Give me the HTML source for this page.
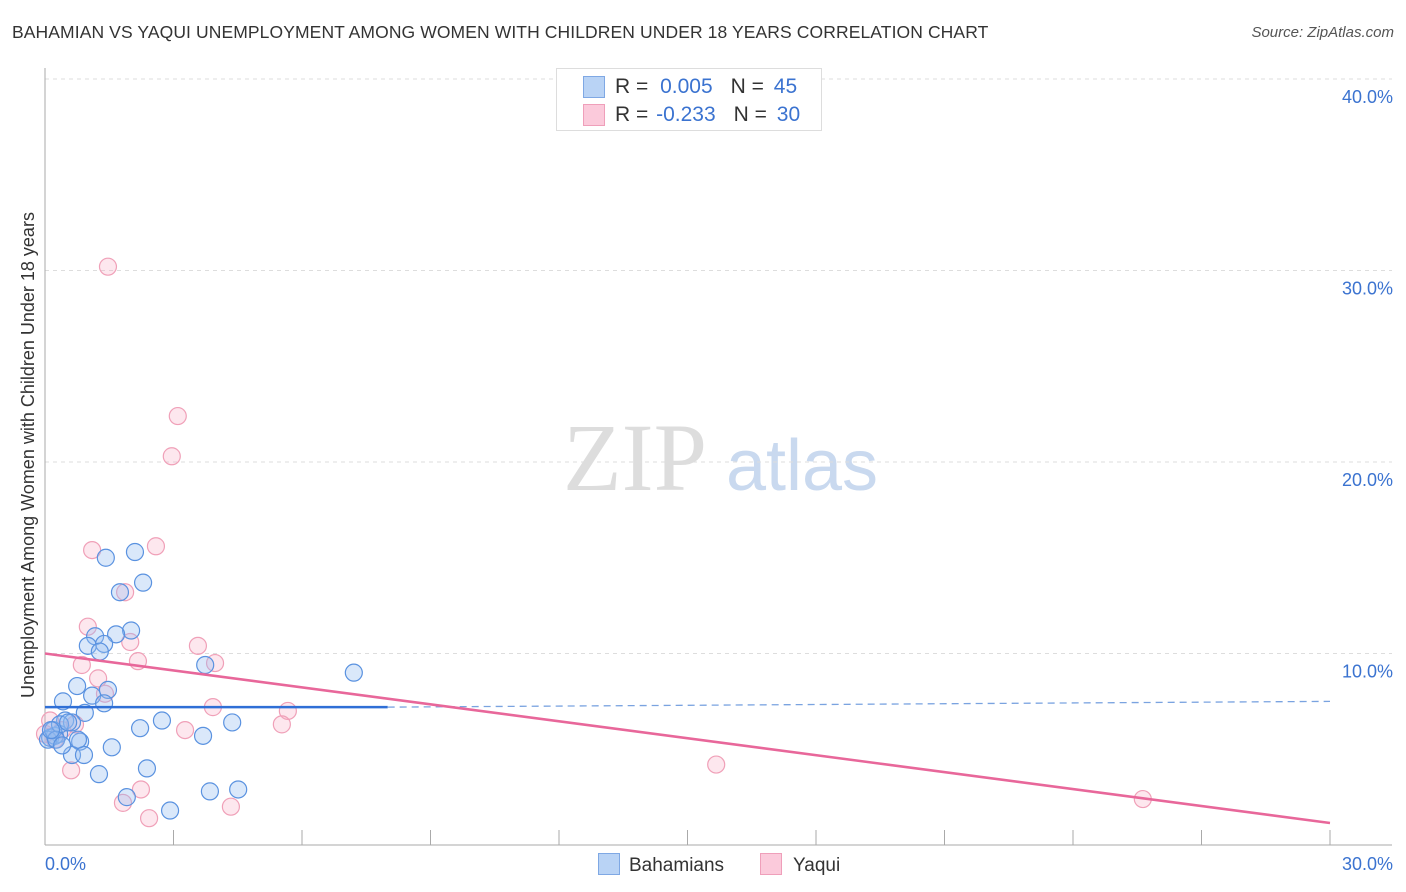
<!DOCTYPE html>
<html><head><meta charset="utf-8"><style>
body{margin:0;background:#fff;font-family:"Liberation Sans",sans-serif;}
#wrap{position:relative;width:1406px;height:892px;overflow:hidden;}
.t{position:absolute;white-space:nowrap;}
</style></head><body>
<div id="wrap">
<div class="t" style="left:12px;top:22px;font-size:17.5px;color:#333;letter-spacing:0.1px;">BAHAMIAN VS YAQUI UNEMPLOYMENT AMONG WOMEN WITH CHILDREN UNDER 18 YEARS CORRELATION CHART</div>
<div class="t" style="right:12px;top:24px;font-size:15px;color:#555;font-style:italic;">Source: ZipAtlas.com</div>
<svg id="plot" width="1406" height="892" style="position:absolute;left:0;top:0"></svg>
</div>
<script>
const xTicks=[0,3,6,9,12,15,18,21,24,27,30];
const yTicks=[10,20,30,40];
const yTickLabels=["10.0%","20.0%","30.0%","40.0%"];
const bahamiansX=[1.42,2.10,2.29,1.75,2.01,1.66,1.17,1.00,1.38,1.28,0.42,0.75,1.47,1.10,1.38,0.93,0.47,0.63,0.33,0.12,0.23,2.22,2.73,4.37,3.74,7.21,0.82,1.56,0.63,0.91,1.26,2.38,1.91,2.92,3.85,4.51,3.69,0.07,0.19,0.35,0.54,0.26,0.77,0.40,0.14];
const bahamiansY=[15.0,15.3,13.7,13.2,11.2,11.0,10.9,10.4,10.5,10.1,7.5,8.3,8.1,7.8,7.4,6.9,6.5,6.4,5.8,5.6,5.7,6.1,6.5,6.4,9.4,9.0,5.4,5.1,4.7,4.7,3.7,4.0,2.5,1.8,2.8,2.9,5.7,5.5,6.0,6.3,6.4,5.5,5.5,5.2,6.0];
const yaquiX=[1.47,3.10,2.96,1.10,2.59,1.00,1.87,1.99,2.17,3.57,3.97,0.86,1.24,1.40,3.92,5.67,5.53,3.27,0.61,2.24,1.82,2.43,4.34,15.67,25.63,0.12,0.40,0.23,0.0,0.70];
const yaquiY=[30.2,22.4,20.3,15.4,15.6,11.4,13.2,10.6,9.6,10.4,9.5,9.4,8.7,7.9,7.2,7.0,6.3,6.0,3.9,2.9,2.2,1.4,2.0,4.2,2.4,6.5,6.0,5.5,5.8,6.3];
const blueLine=[[0,7.2],[8,7.2],[30,7.5]];
const pinkLine=[[0,10.0],[30,1.15]];
const svg=document.getElementById('plot');
const NS='http://www.w3.org/2000/svg';
const X=v=>45+v*(1285/30);
const Y=v=>845-v*19.15;
function mk(tag,attrs,parent){const e=document.createElementNS(NS,tag);for(const k in attrs)e.setAttribute(k,attrs[k]);(parent||svg).appendChild(e);return e;}
let w=mk('text',{x:635,y:490,'font-size':96,'font-family':'Liberation Serif,serif',fill:'#ddd','text-anchor':'middle'});w.textContent='ZIP';


let w2=mk('text',{x:802,y:490,'font-size':72,'font-family':'Liberation Sans,sans-serif',fill:'#c9d9ef','text-anchor':'middle'});w2.textContent='atlas';


yTicks.forEach((t,i)=>{
 let g=mk('line',{x1:45,x2:1392,y1:Y(t),y2:Y(t),stroke:'#ddd','stroke-dasharray':'4,4'});
 
 
 let l=mk('text',{x:1393,y:Y(t)+24,'font-size':18,fill:'#3b73d0','text-anchor':'end'});l.textContent=yTickLabels[i];
 
 
});
let ax=mk('line',{x1:45,x2:45,y1:68,y2:845,stroke:'#aaa'});


let bx=mk('line',{x1:45,x2:1392,y1:845,y2:845,stroke:'#aaa'});


xTicks.forEach(t=>{
 let k=mk('line',{x1:X(t),x2:X(t),y1:830,y2:845,stroke:'#aaa'});
 
 
});
[[0,'0.0%','start',45],[30,'30.0%','end',1393]].forEach(a=>{
 let l=mk('text',{x:a[3],y:870,'font-size':18,fill:'#3b73d0','text-anchor':a[2]});l.textContent=a[1];
 
 
});
let yt=mk('text',{x:0,y:0,'font-size':18,fill:'#333','text-anchor':'middle',transform:'translate(34,455) rotate(-90)'});yt.textContent='Unemployment Among Women with Children Under 18 years';


yaquiX.forEach((v,i)=>{
 let c=mk('circle',{cx:X(v),cy:Y(yaquiY[i]),r:8.5,fill:'rgba(247,170,195,0.28)',stroke:'#f0a0b8','stroke-width':1.2});
 
 
});
bahamiansX.forEach((v,i)=>{
 let c=mk('circle',{cx:X(v),cy:Y(bahamiansY[i]),r:8.5,fill:'rgba(150,190,240,0.35)',stroke:'#5a92e0','stroke-width':1.2});
 
 
});
let b1=mk('line',{x1:X(blueLine[0][0]),y1:Y(blueLine[0][1]),x2:X(blueLine[1][0]),y2:Y(blueLine[1][1]),stroke:'#2f6fd6','stroke-width':2.5});


let b2=mk('line',{x1:X(blueLine[1][0]),y1:Y(blueLine[1][1]),x2:X(blueLine[2][0]),y2:Y(blueLine[2][1]),stroke:'#7aa3e0','stroke-width':1.3,'stroke-dasharray':'7,5'});


let p1=mk('line',{x1:X(pinkLine[0][0]),y1:Y(pinkLine[0][1]),x2:X(pinkLine[1][0]),y2:Y(pinkLine[1][1]),stroke:'#e8679a','stroke-width':2.5});


</script>
<div class="t" style="left:556px;top:68px;width:264px;height:61px;border:1px solid #ddd;background:#fff;font-size:20px;color:#333;">
 <div style="position:absolute;left:26px;top:7px;width:20px;height:20px;background:#b9d3f5;border:1px solid #7fa8e4;"></div>
 <div style="position:absolute;left:58px;top:6px;font-size:21px;">R = <span style="color:#3b73d0;margin-left:6px">0.005</span><span style="margin-left:18px">N = </span><span style="color:#3b73d0;margin-left:4px">45</span></div>
 <div style="position:absolute;left:26px;top:35px;width:20px;height:20px;background:#fbcadb;border:1px solid #ef9fba;"></div>
 <div style="position:absolute;left:58px;top:34px;font-size:21px;">R = <span style="color:#3b73d0;margin-left:2px">-0.233</span><span style="margin-left:18px">N = </span><span style="color:#3b73d0;margin-left:4px">30</span></div>
</div>
<div class="t" style="left:598px;top:853px;font-size:19px;color:#333;"><span style="display:inline-block;width:20px;height:20px;background:#b9d3f5;border:1px solid #7fa8e4;vertical-align:-4px;margin-right:9px"></span>Bahamians</div>
<div class="t" style="left:760px;top:853px;font-size:19px;color:#333;"><span style="display:inline-block;width:20px;height:20px;background:#fbcadb;border:1px solid #ef9fba;vertical-align:-4px;margin-right:11px"></span>Yaqui</div>
</body></html>
